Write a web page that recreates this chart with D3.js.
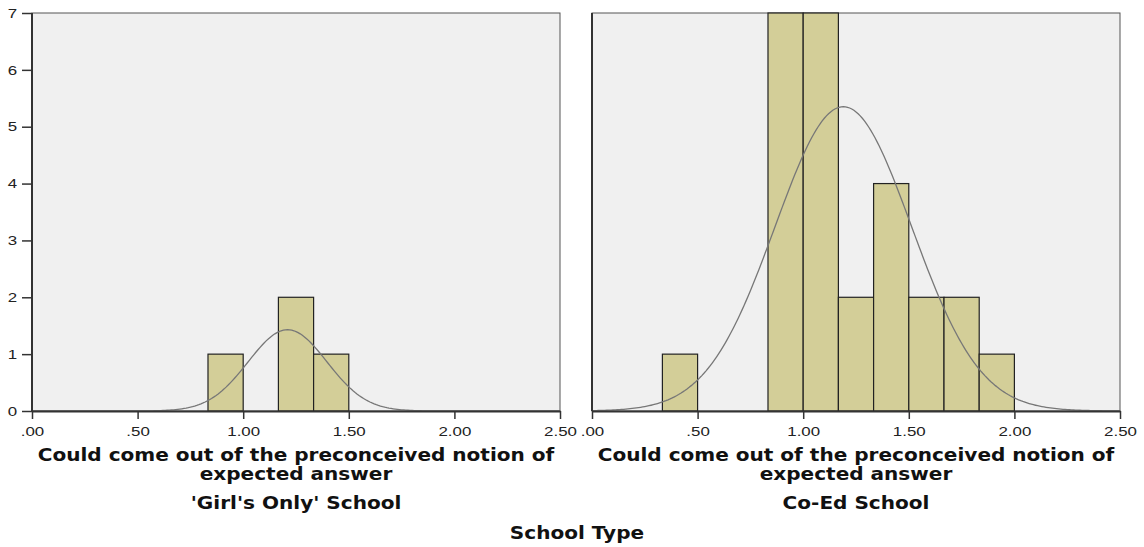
<!DOCTYPE html>
<html>
<head>
<meta charset="utf-8">
<script src="https://cdn.jsdelivr.net/npm/d3@7"></script>
<style>
  body { margin: 0; background: #fff; }
  text { font-family: "Liberation Sans", Arial, sans-serif; }
</style>
</head>
<body>
<svg id="chart"></svg>
<script>
const width = 1144;
const height = 547;

// histogram bins (lower edge, count), bin width 1/6
const binWidth = 1 / 6;
const girlsBins = [0.8333, 1.1667, 1.3333];
const girlsCounts = [1, 2, 1];
const coedBins = [0.3333, 0.8333, 1.0, 1.1667, 1.3333, 1.5, 1.6667, 1.8333];
const coedCounts = [1, 7, 7, 2, 4, 2, 2, 1];

// fitted normal curve parameters: [mean, sd, n]
const girlsNormal = [1.21, 0.186, 4];
const coedNormal = [1.19, 0.323, 26];

const xTicks = [0, 0.5, 1, 1.5, 2, 2.5];
const yTicks = [0, 1, 2, 3, 4, 5, 6, 7];
const panelNames = ["'Girl's Only' School", "Co-Ed School"];
const xTitle = ["Could come out of the preconceived notion of", "expected answer"];
const groupTitle = "School Type";

const panels = [
  {name: panelNames[0], bins: girlsBins, counts: girlsCounts, normal: girlsNormal, left: 32, showY: true},
  {name: panelNames[1], bins: coedBins, counts: coedCounts, normal: coedNormal, left: 592, showY: false}
];

const plotW = 528;
const plotTop = 13;
const plotBottom = 411;
const stretch = 1.3;      // the labels in the picture are drawn wide
const titleStretch = 1.18;

const svg = d3.select('#chart')
  .attr('width', width)
  .attr('height', height);

const y = d3.scaleLinear().domain([0, 7]).range([plotBottom, plotTop]);

function boldTitle(sel, tx, ty, txt) {
  sel.append('text')
    .attr('transform', `translate(${tx},${ty}) scale(${titleStretch},1)`)
    .attr('text-anchor', 'middle')
    .style('font-family', '"DejaVu Sans", Verdana, sans-serif')
    .attr('font-weight', 'bold')
    .attr('font-size', 17)
    .attr('fill', '#111')
    .text(txt);
}

panels.forEach(p => {
  const x = d3.scaleLinear().domain([0, 2.5]).range([p.left, p.left + plotW]);
  const g = svg.append('g');

  g.append('rect')
    .attr('x', p.left).attr('y', plotTop)
    .attr('width', plotW).attr('height', plotBottom - plotTop)
    .attr('fill', '#f0f0f0')
    .attr('stroke', '#555').attr('stroke-width', 1);

  const bars = p.bins.map((b, i) => ({x0: b, x1: b + binWidth, n: p.counts[i]}));
  g.selectAll('rect.bar')
    .data(bars).enter()
    .append('rect')
      .attr('class', 'bar')
      .attr('x', d => x(d.x0))
      .attr('y', d => y(d.n))
      .attr('width', d => x(d.x1) - x(d.x0))
      .attr('height', d => y(0) - y(d.n))
      .attr('fill', '#d3ce98')
      .attr('stroke', '#222')
      .attr('stroke-width', 1.2);

  // normal curve
  const [mu, sd, n] = p.normal;
  const pts = d3.range(0, 2.5001, 0.01).map(v => [v,
    n * binWidth * Math.exp(-0.5 * ((v - mu) / sd) ** 2) / (sd * Math.sqrt(2 * Math.PI))]);
  g.append('path')
    .datum(pts)
    .attr('fill', 'none')
    .attr('stroke', '#777')
    .attr('stroke-width', 1.3)
    .attr('d', d3.line().x(d => x(d[0])).y(d => y(d[1])));

  // x axis
  const xAxis = g.append('g')
    .attr('transform', `translate(0, ${plotBottom})`)
    .call(d3.axisBottom(x).tickValues(xTicks).tickSize(8).tickSizeOuter(0)
      .tickFormat(d => d3.format('.2f')(d).replace(/^0/, '')));
  xAxis.select('.domain').attr('stroke', '#333').attr('stroke-width', 2);
  xAxis.selectAll('line').attr('stroke', '#333').attr('stroke-width', 1.5);
  xAxis.selectAll('text')
    .attr('font-size', 13).attr('fill', '#222')
    .attr('y', 25).attr('dy', null)
    .attr('transform', `scale(${stretch},1)`);

  // y axis line
  g.append('line')
    .attr('x1', p.left).attr('x2', p.left)
    .attr('y1', plotTop).attr('y2', plotBottom)
    .attr('stroke', '#333').attr('stroke-width', 2);

  if (p.showY) {
    const yAxis = g.append('g')
      .attr('transform', `translate(${p.left}, 0)`)
      .call(d3.axisLeft(y).tickValues(yTicks).tickSize(10).tickSizeOuter(0).tickFormat(d3.format('d')));
    yAxis.select('.domain').remove();
    yAxis.selectAll('line').attr('stroke', '#333').attr('stroke-width', 1.5);
    yAxis.selectAll('text')
      .attr('font-size', 13).attr('fill', '#222')
      .attr('x', -11.5)
      .attr('transform', `scale(${stretch},1)`);
  }

  const cx = p.left + plotW / 2;
  xTitle.forEach((t, i) => boldTitle(g, cx, 461 + i * 19, t));
  boldTitle(g, cx, 509, p.name);
});

boldTitle(svg, 577, 539, groupTitle);
</script>
</body>
</html>
